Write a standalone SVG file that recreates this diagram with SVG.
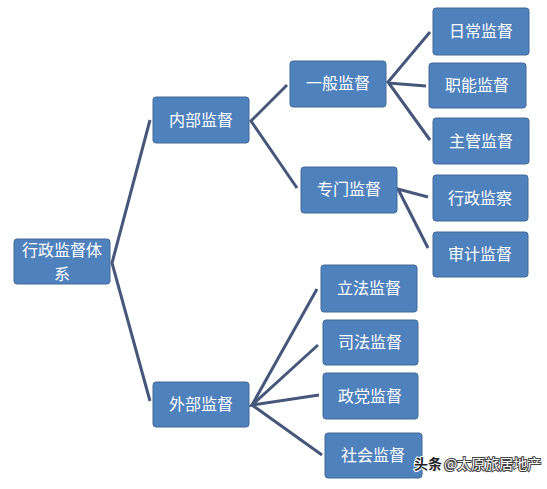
<svg xmlns="http://www.w3.org/2000/svg" width="547" height="489" viewBox="0 0 547 489">
<style>
.box{fill:#4F81BD;stroke:#41699A;stroke-width:1}
.t{font-family:"Noto Sans CJK SC","Liberation Sans",sans-serif;font-size:16px;fill:#fff;text-anchor:middle}
.c{fill:none;stroke:#46577A;stroke-width:3;stroke-linejoin:miter}
.wm{font-family:"Noto Sans CJK SC",sans-serif;font-size:14px}
</style>
<rect width="547" height="489" fill="#fff"/>
<g id="connectors">
<polyline class="c" points="150,120 112,263 150,401"/>
<polyline class="c" points="287,85 251,121 297,188"/>
<polyline class="c" points="430,32 388,82 430,140"/>
<line class="c" x1="388" y1="83" x2="426" y2="86"/>
<polyline class="c" points="428,197 398,189 428,248"/>
<polyline class="c" points="317,289 252,405 322,455"/>
<polyline class="c" points="318,345 252,405 319,395"/>
</g>
<g id="root"><rect class="box" x="14" y="239" width="96" height="45" rx="3"/><text class="t" x="62" y="256">行政监督体</text><text class="t" x="62" y="280">系</text></g>
<g id="neibu"><rect class="box" x="153" y="97" width="96" height="46" rx="3"/><text class="t" x="201" y="126">内部监督</text></g>
<g id="waibu"><rect class="box" x="153" y="382" width="96" height="45" rx="3"/><text class="t" x="201" y="410">外部监督</text></g>
<g id="yiban"><rect class="box" x="290" y="61" width="96" height="46" rx="3"/><text class="t" x="338" y="89">一般监督</text></g>
<g id="zhuanmen"><rect class="box" x="301" y="167" width="96" height="46" rx="3"/><text class="t" x="349" y="195">专门监督</text></g>
<g id="richang"><rect class="box" x="433" y="8" width="96" height="47" rx="3"/><text class="t" x="481" y="37">日常监督</text></g>
<g id="zhineng"><rect class="box" x="429" y="63" width="97" height="45" rx="3"/><text class="t" x="477" y="91">职能监督</text></g>
<g id="zhuguan"><rect class="box" x="433" y="118" width="96" height="46" rx="3"/><text class="t" x="481" y="147">主管监督</text></g>
<g id="xingzheng"><rect class="box" x="433" y="175" width="95" height="46" rx="3"/><text class="t" x="480" y="204">行政监察</text></g>
<g id="shenji"><rect class="box" x="433" y="232" width="95" height="45" rx="3"/><text class="t" x="480" y="260">审计监督</text></g>
<g id="lifa"><rect class="box" x="321" y="265" width="96" height="47" rx="3"/><text class="t" x="369" y="294">立法监督</text></g>
<g id="sifa"><rect class="box" x="323" y="320" width="95" height="45" rx="3"/><text class="t" x="370" y="348">司法监督</text></g>
<g id="zhengdang"><rect class="box" x="323" y="373" width="95" height="46" rx="3"/><text class="t" x="370" y="402">政党监督</text></g>
<g id="shehui"><rect class="box" x="325" y="433" width="97" height="45" rx="3"/><text class="t" x="373" y="461">社会监督</text></g>
<g id="watermark"><text class="wm" x="414" y="469" style="fill:#222;stroke:#fff;stroke-width:2;paint-order:stroke;font-weight:bold">头条</text><text class="wm" x="444" y="469" style="fill:#fff;stroke:#444;stroke-width:2;paint-order:stroke">@太原旅居地产</text></g>
</svg>
